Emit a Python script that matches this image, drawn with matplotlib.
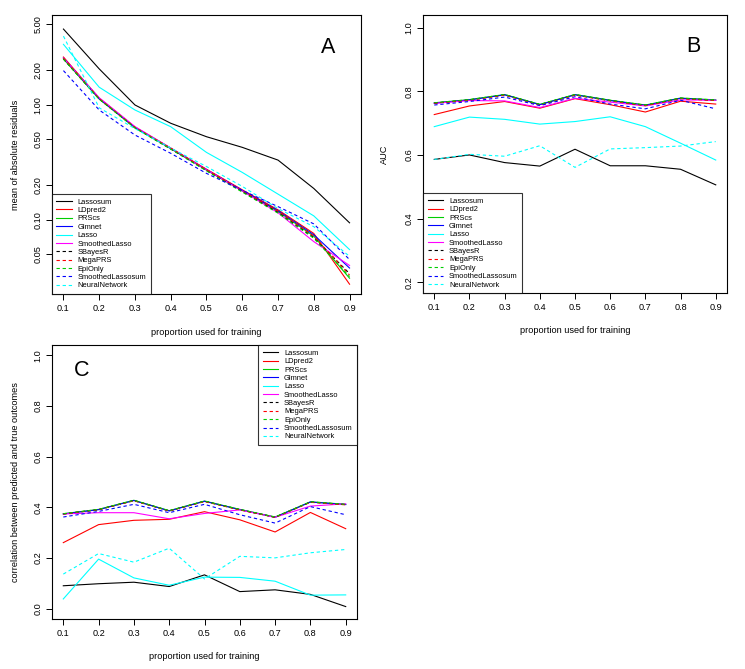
#recreating the 3 panel comparison figure (residuals, AUC, correlation)

import numpy as np
import matplotlib
matplotlib.use('Agg')
import matplotlib.pyplot as plt
from matplotlib.legend_handler import HandlerLine2D

plt.rcParams['font.family'] = ['Liberation Sans', 'DejaVu Sans']

props = [0.1, 0.2, 0.3, 0.4, 0.5, 0.6, 0.7, 0.8, 0.9]

methods = ['Lassosum', 'LDpred2', 'PRScs', 'Glmnet', 'Lasso', 'SmoothedLasso',
           'SBayesR', 'MegaPRS', 'EpiOnly', 'SmoothedLassosum', 'NeuralNetwork']

#panel A, mean of absolute residuals
mar_lassosum = [4.55, 2.05, 0.995, 0.69, 0.527, 0.426, 0.33, 0.187, 0.094]
mar_ldpred2 = [2.6, 1.14, 0.64, 0.42, 0.275, 0.182, 0.122, 0.076, 0.0275]
mar_prscs = [2.5, 1.12, 0.63, 0.415, 0.27, 0.178, 0.118, 0.072, 0.031]
mar_glmnet = [2.55, 1.13, 0.635, 0.418, 0.272, 0.18, 0.12, 0.074, 0.038]
mar_lasso = [3.35, 1.42, 0.90, 0.644, 0.385, 0.258, 0.167, 0.108, 0.055]
mar_smlasso = [2.55, 1.15, 0.645, 0.42, 0.272, 0.178, 0.115, 0.0645, 0.040]
mar_sbayesr = [2.5, 1.12, 0.63, 0.412, 0.268, 0.176, 0.116, 0.070, 0.034]
mar_megaprs = [2.55, 1.13, 0.635, 0.418, 0.272, 0.179, 0.119, 0.072, 0.033]
mar_epionly = [2.5, 1.12, 0.63, 0.412, 0.266, 0.174, 0.114, 0.069, 0.032]
mar_smlassosum = [1.98, 0.9, 0.545, 0.378, 0.253, 0.18, 0.13, 0.092, 0.045]
mar_nn = [3.95, 0.94, 0.62, 0.42, 0.29, 0.195, 0.125, 0.087, 0.048]

#panel B, AUC
auc_lassosum = [0.586, 0.600, 0.576, 0.565, 0.618, 0.566, 0.566, 0.555, 0.506]
auc_ldpred2 = [0.727, 0.754, 0.768, 0.747, 0.777, 0.758, 0.735, 0.769, 0.760]
auc_prscs = [0.764, 0.774, 0.790, 0.759, 0.790, 0.772, 0.757, 0.779, 0.773]
auc_glmnet = [0.763, 0.773, 0.789, 0.758, 0.789, 0.771, 0.756, 0.778, 0.772]
auc_lasso = [0.689, 0.719, 0.712, 0.697, 0.705, 0.720, 0.689, 0.637, 0.584]
auc_smlasso = [0.762, 0.771, 0.770, 0.749, 0.778, 0.766, 0.754, 0.773, 0.772]
auc_sbayesr = [0.763, 0.773, 0.789, 0.758, 0.789, 0.771, 0.756, 0.778, 0.772]
auc_megaprs = [0.763, 0.772, 0.788, 0.757, 0.788, 0.770, 0.755, 0.777, 0.771]
auc_epionly = [0.764, 0.774, 0.790, 0.759, 0.790, 0.772, 0.757, 0.779, 0.773]
auc_smlassosum = [0.757, 0.768, 0.782, 0.755, 0.783, 0.760, 0.745, 0.772, 0.745]
auc_nn = [0.586, 0.602, 0.596, 0.629, 0.561, 0.619, 0.623, 0.628, 0.642]

#panel C, correlation predicted vs true
cor_lassosum = [0.091, 0.099, 0.105, 0.088, 0.134, 0.068, 0.075, 0.057, 0.009]
cor_ldpred2 = [0.261, 0.332, 0.349, 0.353, 0.383, 0.351, 0.303, 0.380, 0.316]
cor_prscs = [0.375, 0.392, 0.428, 0.387, 0.425, 0.392, 0.362, 0.422, 0.412]
cor_glmnet = [0.374, 0.391, 0.427, 0.386, 0.424, 0.391, 0.361, 0.421, 0.411]
cor_lasso = [0.039, 0.196, 0.122, 0.093, 0.125, 0.124, 0.109, 0.054, 0.055]
cor_smlasso = [0.374, 0.379, 0.379, 0.355, 0.376, 0.390, 0.361, 0.405, 0.414]
cor_sbayesr = [0.374, 0.391, 0.427, 0.386, 0.424, 0.391, 0.361, 0.421, 0.411]
cor_megaprs = [0.374, 0.391, 0.426, 0.386, 0.423, 0.390, 0.361, 0.420, 0.410]
cor_epionly = [0.375, 0.392, 0.428, 0.387, 0.425, 0.392, 0.362, 0.422, 0.412]
cor_smlassosum = [0.362, 0.384, 0.412, 0.379, 0.412, 0.371, 0.338, 0.403, 0.371]
cor_nn = [0.137, 0.218, 0.184, 0.239, 0.118, 0.207, 0.201, 0.221, 0.234]

mar = [mar_lassosum, mar_ldpred2, mar_prscs, mar_glmnet, mar_lasso, mar_smlasso,
       mar_sbayesr, mar_megaprs, mar_epionly, mar_smlassosum, mar_nn]
auc = [auc_lassosum, auc_ldpred2, auc_prscs, auc_glmnet, auc_lasso, auc_smlasso,
       auc_sbayesr, auc_megaprs, auc_epionly, auc_smlassosum, auc_nn]
cor = [cor_lassosum, cor_ldpred2, cor_prscs, cor_glmnet, cor_lasso, cor_smlasso,
       cor_sbayesr, cor_megaprs, cor_epionly, cor_smlassosum, cor_nn]

#old R palette 1:6 then 1:5 dashed
cols = ['black', 'red', '#00CD00', 'blue', 'cyan', 'magenta',
        'black', 'red', '#00CD00', 'blue', 'cyan']
ltys = ['-'] * 6 + ['--'] * 5

fs = 6.6
legfs = 5.4


#R style legend key: short line that starts a bit in from the box edge
class InsetLine(HandlerLine2D):
	def create_artists(self, legend, orig_handle, xdescent, ydescent, width, height, fontsize, trans):
		arts = super().create_artists(legend, orig_handle, xdescent, ydescent, width, height, fontsize, trans)
		off = 0.75 * fontsize
		for a in arts:
			xd = a.get_xdata()
			if len(xd) == 2:
				a.set_xdata([xd[0] + off, xd[1]])
		return arts


fig = plt.figure(figsize=(7.45, 6.69), dpi=100)
axA = fig.add_axes([52/745, 1-294/669, 309/745, 279/669])
axB = fig.add_axes([423/745, 1-293/669, 304/745, 278/669])
axC = fig.add_axes([52/745, 1-619/669, 305/745, 274/669])


def draw(ax, series, ylab, letter, letterpos, legloc):
	for i in range(len(methods)):
		kw = dict(color=cols[i], lw=0.8, label=methods[i])
		if ltys[i] == '--':
			kw['dashes'] = (3, 2.5)
		ax.plot(props, series[i], **kw)
	ax.set_xlim(0.068, 0.932)
	ax.set_xticks(props)
	ax.set_xticklabels([str(p) for p in props])
	ax.tick_params(direction='out', length=4, width=0.7, labelsize=fs, pad=3)
	for s in ax.spines.values():
		s.set_linewidth(0.8)
	ax.set_xlabel('proportion used for training', fontsize=fs)
	ax.set_ylabel(ylab, fontsize=fs)
	ax.text(letterpos[0], letterpos[1], letter, transform=ax.transAxes,
		fontsize=15.5, ha='center', va='center')
	leg = ax.legend(loc=legloc, fontsize=legfs, frameon=True, fancybox=False,
		borderaxespad=0, handlelength=2.1, handletextpad=0.75, labelspacing=0.15,
		borderpad=0.6, handler_map={matplotlib.lines.Line2D: InsetLine()})
	leg.get_frame().set_edgecolor('black')
	leg.get_frame().set_linewidth(0.8)


def rot_y(ax):
	for lab in ax.get_yticklabels():
		lab.set_rotation(90)
		lab.set_va('center')


#A
axA.set_yscale('log')
draw(axA, mar, 'mean of absolute residuals', 'A', (0.893, 0.882), 'lower left')
axA.set_ylim(0.0226, 6.03)
yt = [0.05, 0.1, 0.2, 0.5, 1, 2, 5]
axA.set_yticks(yt)
axA.set_yticklabels(['%.2f' % v for v in yt])
axA.minorticks_off()
rot_y(axA)
axA.xaxis.set_label_coords(0.5, -0.122)
axA.yaxis.set_label_coords(-0.104, 0.5)

#B
draw(axB, auc, 'AUC', 'B', (0.890, 0.886), 'lower left')
axB.set_ylim(0.166, 1.04)
axB.set_yticks([0.2, 0.4, 0.6, 0.8, 1.0])
axB.set_yticklabels(['0.2', '0.4', '0.6', '0.8', '1.0'])
rot_y(axB)
axB.xaxis.set_label_coords(0.5, -0.119)
axB.yaxis.set_label_coords(-0.112, 0.5)

#C
draw(axC, cor, 'correlation between predicted and true outcomes', 'C', (0.098, 0.906), 'upper right')
axC.set_ylim(-0.04, 1.04)
axC.set_yticks([0.0, 0.2, 0.4, 0.6, 0.8, 1.0])
axC.set_yticklabels(['0.0', '0.2', '0.4', '0.6', '0.8', '1.0'])
rot_y(axC)
axC.xaxis.set_label_coords(0.5, -0.122)
axC.yaxis.set_label_coords(-0.105, 0.5)

fig.savefig('out.png', dpi=100)
